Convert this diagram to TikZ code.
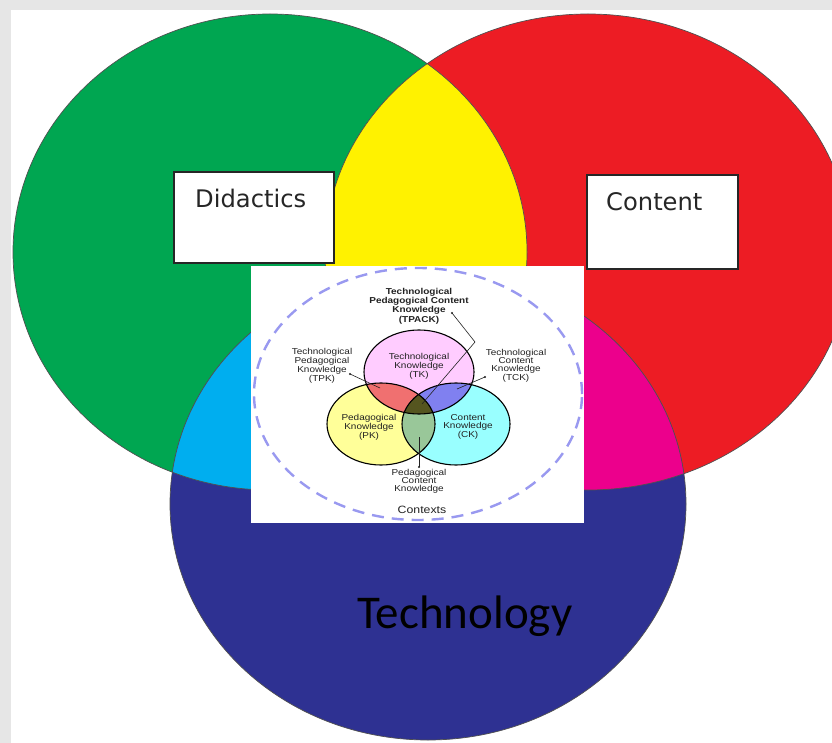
\documentclass[tikz,border=0pt]{standalone}
\usepackage{fontspec}
\setmainfont{DejaVu Sans}
\newfontfamily\techfont{Carlito}
\newfontfamily\tpf[FakeStretch=1.16]{Liberation Sans}
\definecolor{bggray}{HTML}{E6E6E6}
\definecolor{cgreen}{HTML}{00A651}
\definecolor{cred}{HTML}{ED1C24}
\definecolor{cblue}{HTML}{2E3192}
\definecolor{cyellow}{HTML}{FFF200}
\definecolor{ccyan}{HTML}{00AEEF}
\definecolor{cmagenta}{HTML}{EC008C}
\definecolor{outl}{HTML}{505050}
\definecolor{tkpink}{HTML}{FFCCFF}
\definecolor{pkyel}{HTML}{FFFF99}
\definecolor{ckcyan}{HTML}{99FFFF}
\definecolor{tpkred}{HTML}{F07070}
\definecolor{tckblue}{HTML}{8080F0}
\definecolor{pckgreen}{HTML}{99C799}
\definecolor{tpackc}{HTML}{55551F}
\definecolor{ctxline}{HTML}{9999F0}
\definecolor{txtgray}{HTML}{222222}
\begin{document}
\begin{tikzpicture}[x=1pt,y=-1pt,
  bigoutline/.style={draw=outl, line width=0.7pt},
  smalloutline/.style={draw=black, line width=1.1pt},
  labelbox/.style={draw=black!85, line width=1.6pt, fill=white, inner sep=0pt, anchor=north west},
  boxtext/.style={inner sep=0pt, anchor=base west, text=black!85, font=\fontsize{24.2}{28}\selectfont},
  tplabel/.style={inner sep=0pt, align=center, text=txtgray, font=\tpf\fontsize{8.6}{7.8}\selectfont},
  leader/.style={draw=txtgray, line width=0.6pt},
  dotmark/.style={fill=txtgray}
]
\useasboundingbox (0,0) rectangle (832,743);
\fill[bggray] (0,0) rectangle (832,743);
\fill[white] (11,10) rectangle (832,743);

% big ellipses
\fill[cgreen] (270,252) ellipse [x radius=257pt, y radius=238pt];
\fill[cred] (588,252) ellipse [x radius=263pt, y radius=238pt];
\fill[cblue] (428,504) ellipse [x radius=258pt, y radius=236pt];
\begin{scope}
  \clip (270,252) ellipse [x radius=257pt, y radius=238pt];
  \fill[cyellow] (588,252) ellipse [x radius=263pt, y radius=238pt];
  \fill[ccyan] (428,504) ellipse [x radius=258pt, y radius=236pt];
\end{scope}
\begin{scope}
  \clip (588,252) ellipse [x radius=263pt, y radius=238pt];
  \fill[cmagenta] (428,504) ellipse [x radius=258pt, y radius=236pt];
\end{scope}
\draw[bigoutline] (270,252) ellipse [x radius=257pt, y radius=238pt];
\draw[bigoutline] (588,252) ellipse [x radius=263pt, y radius=238pt];
\draw[bigoutline] (428,504) ellipse [x radius=258pt, y radius=236pt];

% labels of big circles
\node[labelbox, minimum width=160pt, minimum height=91pt] (didbox) at (173,171) {};
\node[boxtext] (didtxt) at (195,208) {Didactics};
\node[labelbox, minimum width=151pt, minimum height=94pt] (conbox) at (586,174) {};
\node[boxtext] (contxt) at (606,211) {Content};
\node[inner sep=0pt, anchor=base west, text=black, font=\techfont\fontsize{47}{50}\selectfont] (tech) at (357,628) {Technology};

% TPACK picture
\node[fill=white, draw=none, inner sep=0pt, minimum width=333pt, minimum height=257pt, anchor=north west] (tpimg) at (251,266) {};
\draw[ctxline, line width=2.4pt, dash pattern=on 12pt off 8pt] (418,394) ellipse [x radius=164pt, y radius=126pt];

\fill[tkpink] (419,372) ellipse [x radius=55pt, y radius=42pt];
\fill[pkyel] (381,424) ellipse [x radius=54pt, y radius=41pt];
\fill[ckcyan] (456,424) ellipse [x radius=54pt, y radius=41pt];
\begin{scope}
  \clip (419,372) ellipse [x radius=55pt, y radius=42pt];
  \fill[tpkred] (381,424) ellipse [x radius=54pt, y radius=41pt];
  \fill[tckblue] (456,424) ellipse [x radius=54pt, y radius=41pt];
\end{scope}
\begin{scope}
  \clip (381,424) ellipse [x radius=54pt, y radius=41pt];
  \fill[pckgreen] (456,424) ellipse [x radius=54pt, y radius=41pt];
  \clip (456,424) ellipse [x radius=54pt, y radius=41pt];
  \fill[tpackc] (419,372) ellipse [x radius=55pt, y radius=42pt];
\end{scope}
\draw[smalloutline] (419,372) ellipse [x radius=55pt, y radius=42pt];
\draw[smalloutline] (381,424) ellipse [x radius=54pt, y radius=41pt];
\draw[smalloutline] (456,424) ellipse [x radius=54pt, y radius=41pt];

% TPACK texts
\node[tplabel, font=\tpf\bfseries\fontsize{8.6}{9.3}\selectfont] (tpack) at (419,306) {Technological\\Pedagogical Content\\Knowledge\\(TPACK)};
\node[tplabel] (tpk) at (322,366) {Technological\\Pedagogical\\Knowledge\\(TPK)};
\node[tplabel] (tk) at (419,366) {Technological\\Knowledge\\(TK)};
\node[tplabel] (tck) at (516,366) {Technological\\Content\\Knowledge\\(TCK)};
\node[tplabel] (pk) at (369,427) {Pedagogical\\Knowledge\\(PK)};
\node[tplabel] (ck) at (468,427) {Content\\Knowledge\\(CK)};
\node[tplabel] (pck) at (419,481) {Pedagogical\\Content\\Knowledge};
\node[tplabel, font=\tpf\fontsize{10.6}{12}\selectfont] (ctx) at (422,510) {Contexts};

% leader lines
\coordinate (tpkdot) at (350,374);
\coordinate (tpkend) at (380,388);
\coordinate (tckdot) at (485,377);
\coordinate (tckend) at (457,389);
\coordinate (tpackdot) at (452,313);
\coordinate (tpackbend) at (475,342);
\coordinate (tpackend) at (422,404);
\coordinate (pckdot) at (419,467);
\coordinate (pckend) at (419,437);
\draw[leader] (tpkdot) -- (tpkend);
\draw[leader] (tckdot) -- (tckend);
\draw[leader] (tpackdot) -- (tpackbend) -- (tpackend);
\draw[leader] (pckdot) -- (pckend);
\fill[dotmark] (tpkdot) circle (1.2pt);
\fill[dotmark] (tckdot) circle (1.2pt);
\fill[dotmark] (tpackdot) circle (1.2pt);
\fill[dotmark] (pckdot) circle (1.2pt);
\end{tikzpicture}
\end{document}
